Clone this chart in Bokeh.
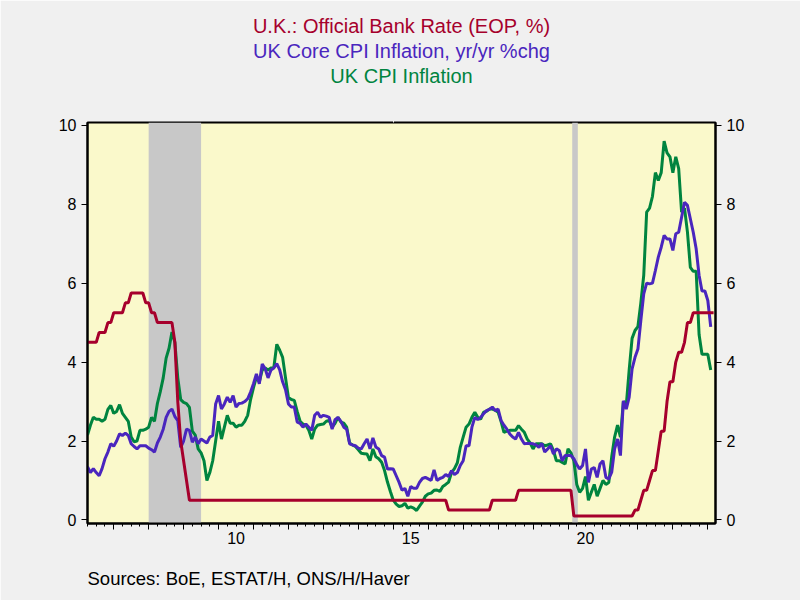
from bokeh.plotting import figure
from bokeh.models import Range1d, LinearAxis, FixedTicker, BoxAnnotation, Title
from bokeh.embed import file_html
from bokeh.resources import INLINE

# ---------------- data (monthly, first observation = April 2006) ----------------
start_year, start_month = 2006, 4

# U.K. Official Bank Rate (EOP, %), Apr 2006 .. Mar 2024
bank_rate = (
    [4.5, 4.5, 4.5, 4.5, 4.75, 4.75, 4.75, 5.0, 5.0] +                      # 2006 Apr-Dec
    [5.25, 5.25, 5.25, 5.25, 5.5, 5.5, 5.75, 5.75, 5.75, 5.75, 5.75, 5.5] +  # 2007
    [5.5, 5.25, 5.25, 5.0, 5.0, 5.0, 5.0, 5.0, 5.0, 4.5, 3.0, 2.0] +         # 2008
    [1.5, 1.0, 0.5, 0.5, 0.5, 0.5, 0.5, 0.5, 0.5, 0.5, 0.5, 0.5] +           # 2009
    [0.5, 0.5, 0.5, 0.5, 0.5, 0.5, 0.5, 0.5, 0.5, 0.5, 0.5, 0.5] +           # 2010
    [0.5, 0.5, 0.5, 0.5, 0.5, 0.5, 0.5, 0.5, 0.5, 0.5, 0.5, 0.5] +           # 2011
    [0.5, 0.5, 0.5, 0.5, 0.5, 0.5, 0.5, 0.5, 0.5, 0.5, 0.5, 0.5] +           # 2012
    [0.5, 0.5, 0.5, 0.5, 0.5, 0.5, 0.5, 0.5, 0.5, 0.5, 0.5, 0.5] +           # 2013
    [0.5, 0.5, 0.5, 0.5, 0.5, 0.5, 0.5, 0.5, 0.5, 0.5, 0.5, 0.5] +           # 2014
    [0.5, 0.5, 0.5, 0.5, 0.5, 0.5, 0.5, 0.5, 0.5, 0.5, 0.5, 0.5] +           # 2015
    [0.5, 0.5, 0.5, 0.5, 0.5, 0.5, 0.5, 0.25, 0.25, 0.25, 0.25, 0.25] +      # 2016
    [0.25, 0.25, 0.25, 0.25, 0.25, 0.25, 0.25, 0.25, 0.25, 0.25, 0.5, 0.5] + # 2017
    [0.5, 0.5, 0.5, 0.5, 0.5, 0.5, 0.5, 0.75, 0.75, 0.75, 0.75, 0.75] +      # 2018
    [0.75, 0.75, 0.75, 0.75, 0.75, 0.75, 0.75, 0.75, 0.75, 0.75, 0.75, 0.75] +  # 2019
    [0.75, 0.75, 0.1, 0.1, 0.1, 0.1, 0.1, 0.1, 0.1, 0.1, 0.1, 0.1] +         # 2020
    [0.1, 0.1, 0.1, 0.1, 0.1, 0.1, 0.1, 0.1, 0.1, 0.1, 0.1, 0.25] +          # 2021
    [0.25, 0.5, 0.75, 0.75, 1.0, 1.25, 1.25, 1.75, 2.25, 2.25, 3.0, 3.5] +   # 2022
    [3.5, 4.0, 4.25, 4.25, 4.5, 5.0, 5.0, 5.25, 5.25, 5.25, 5.25, 5.25] +    # 2023
    [5.25, 5.25, 5.25]                                                       # 2024 Jan-Mar
)

# UK Core CPI Inflation, yr/yr %chg, Apr 2006 .. Feb 2024
core_cpi = (
    [1.35, 1.2, 1.3, 1.2, 1.12, 1.3, 1.55, 1.72, 1.93] +
    [1.87, 2.0, 2.18, 2.14, 2.2, 2.14, 1.93, 1.86, 1.8, 1.88, 1.88, 1.88] +
    [1.82, 1.78, 1.72, 1.95, 2.1, 2.3, 2.6, 2.75, 2.81, 2.62, 2.52, 1.84] +
    [2.0, 2.3, 2.27, 1.97, 2.1, 1.93, 2.05, 2.0, 1.95, 2.1, 2.14, 2.94] +
    [3.15, 2.81, 2.94, 3.11, 2.98, 3.15, 2.86, 2.95, 2.96, 3.0, 3.07, 3.24] +
    [3.45, 3.7, 3.45, 3.95, 3.83, 3.6, 3.8, 3.85, 3.96, 3.8, 3.5, 3.3] +
    [2.94, 2.86, 2.86, 2.48, 2.45, 2.35, 2.43, 2.35, 2.27, 2.65, 2.73, 2.6] +
    [2.65, 2.63, 2.6, 2.3, 2.54, 2.6, 2.5, 2.35, 2.3, 1.93, 1.9, 1.88] +
    [1.82, 1.8, 1.93, 2.05, 1.8, 2.08, 1.85, 1.8, 1.63, 1.59, 1.29, 1.3] +
    [1.29, 1.12, 0.95, 0.75, 0.8, 0.6, 0.85, 0.8, 0.8, 0.95, 1.05, 1.08] +
    [1.04, 1.0, 1.27, 1.0, 1.05, 1.08, 1.15, 1.1, 1.25, 1.15, 1.2, 1.38] +
    [1.5, 1.88, 1.88, 2.35, 2.6, 2.54, 2.6, 2.69, 2.77, 2.8, 2.86, 2.77] +
    [2.81, 2.52, 2.4, 2.3, 2.18, 2.1, 2.05, 2.22, 2.05, 1.93, 1.94, 1.94] +
    [1.93, 1.9, 1.84, 1.94, 1.72, 1.8, 1.88, 1.67, 1.8, 1.76, 1.5, 1.63] +
    [1.63, 1.63, 1.55, 1.4, 1.29, 1.38, 1.8, 0.95, 1.29, 1.33, 1.08, 1.42] +
    [1.5, 1.08, 1.04, 1.21, 1.8, 2.05, 1.63, 3.02, 2.81, 3.11, 3.83, 4.12] +
    [4.33, 5.05, 5.73, 6.0, 5.98, 6.0, 6.32, 6.66, 6.91, 7.21, 7.12, 7.12] +
    [6.83, 7.25, 7.29, 7.67, 8.05, 7.97, 7.63, 7.29, 6.87, 6.2, 5.8, 5.8] +
    [5.56, 4.89]
)

# UK CPI Inflation, Apr 2006 .. Feb 2024
uk_cpi = (
    [2.15, 2.4, 2.6, 2.55, 2.55, 2.5, 2.55, 2.8, 2.9] +
    [2.7, 2.75, 2.92, 2.7, 2.6, 2.5, 2.1, 1.98, 2.0, 2.27, 2.27, 2.3] +
    [2.35, 2.6, 2.5, 2.95, 3.25, 3.6, 4.1, 4.35, 4.76, 4.5, 3.6, 3.05] +
    [2.98, 2.95, 2.85, 2.25, 2.15, 1.8, 1.7, 1.5, 1.0, 1.2, 1.5, 2.0] +
    [2.5, 2.05, 2.35, 2.65, 2.45, 2.45, 2.35, 2.4, 2.4, 2.5, 2.65, 3.05] +
    [3.35, 3.62, 3.5, 3.8, 3.85, 3.8, 3.85, 3.87, 4.45, 4.3, 4.12, 3.6] +
    [3.1, 3.05, 3.03, 2.75, 2.5, 2.43, 2.4, 2.27, 2.05, 2.3, 2.4, 2.42] +
    [2.43, 2.5, 2.52, 2.35, 2.45, 2.6, 2.48, 2.45, 2.35, 1.95, 1.9, 1.86] +
    [1.78, 1.69, 1.68, 1.67, 1.5, 1.8, 1.6, 1.55, 1.46, 1.25, 0.96, 0.72] +
    [0.5, 0.4, 0.34, 0.36, 0.42, 0.3, 0.33, 0.3, 0.24, 0.35, 0.45, 0.6] +
    [0.66, 0.68, 0.75, 0.76, 0.72, 0.85, 0.9, 0.96, 1.2, 1.3, 1.45, 1.84] +
    [2.1, 2.35, 2.43, 2.6, 2.73, 2.6, 2.55, 2.73, 2.75, 2.81, 2.81, 2.78] +
    [2.73, 2.5, 2.22, 2.25, 2.27, 2.27, 2.27, 2.39, 2.3, 2.22, 2.05, 1.95] +
    [1.8, 1.93, 1.93, 1.93, 1.88, 1.9, 1.93, 1.76, 1.5, 1.5, 1.46, 1.42] +
    [1.8, 1.7, 1.5, 0.9, 0.7, 0.8, 1.1, 0.5, 0.7, 0.9, 0.6, 0.8] +
    [1.0, 0.9, 0.95, 1.6, 2.1, 2.4, 2.1, 3.0, 2.9, 3.8, 4.6, 4.8] +
    [4.9, 5.5, 6.2, 7.8, 7.9, 8.2, 8.8, 8.6, 8.8, 9.6, 9.3, 9.2] +
    [8.8, 9.2, 8.9, 7.8, 7.9, 7.3, 6.4, 6.3, 6.3, 4.7, 4.2, 4.2] +
    [4.2, 3.8]
)

# recessions (decimal years)
recession_start = [2008.0, 2020.12]
recession_end = [2009.5, 2020.28]

year_ticks = list(range(2007, 2025))
quarter_ticks = [2006.25 + 0.25 * i for i in range(73)]
label_years = [2010, 2015, 2020]
y_ticks = [0, 2, 4, 6, 8, 10]

title_lines = ["U.K.: Official Bank Rate (EOP, %)",
               "UK Core CPI Inflation, yr/yr %chg",
               "UK CPI Inflation"]
source_text = "Sources:  BoE, ESTAT/H, ONS/H/Haver"

# ---------------- styling ----------------
RED = "#A6002C"
BLUE = "#4A26BE"
GREEN = "#00843F"
PAGE_BG = "#F0F0F0"
PLOT_BG = "#FAF9CB"
SHADE = "#C8C8C8"
FONT = "Liberation Sans"

def month_positions(n):
    return [start_year + (start_month - 1 + i) / 12 for i in range(n)]

X0, X1 = 2006.25, 2024.22
Y0, Y1 = -0.09, 10.07

W, H = 800, 600
BL, BR, BT, BB = 87, 85, 122, 77

p = figure(width=W, height=H, x_range=Range1d(X0, X1), y_range=Range1d(Y0, Y1),
           output_backend="svg", toolbar_location=None,
           x_axis_location=None, y_axis_location=None,
           min_border_left=BL, min_border_right=BR,
           min_border_top=BT, min_border_bottom=BB,
           background_fill_color=PLOT_BG, border_fill_color=PAGE_BG)
p.grid.visible = False
p.outline_line_color = "black"
p.outline_line_width = 2

for s, e in zip(recession_start, recession_end):
    p.add_layout(BoxAnnotation(left=s, right=e, fill_color=SHADE, fill_alpha=1.0,
                               line_color=None, level="underlay"))

p.line(month_positions(len(uk_cpi)), uk_cpi, line_color=GREEN, line_width=3)
p.line(month_positions(len(core_cpi)), core_cpi, line_color=BLUE, line_width=3)
p.line(month_positions(len(bank_rate)), bank_rate, line_color=RED, line_width=3)

def y_axis():
    ax = LinearAxis(ticker=FixedTicker(ticks=y_ticks, minor_ticks=[]))
    ax.major_tick_out = 6
    ax.major_tick_in = 0
    ax.minor_tick_out = 0
    ax.minor_tick_in = 0
    ax.axis_line_color = "black"
    ax.axis_line_width = 2
    ax.major_tick_line_color = "black"
    ax.major_tick_line_width = 1
    ax.major_label_text_font = FONT
    ax.major_label_text_font_size = "16px"
    ax.major_label_text_color = "black"
    ax.major_label_standoff = 5
    return ax

SPACER_TICK = [2015.0]

def spacer_axis(size):
    """A blank axis (one tick drawn in the page colour, no label, no line):
    it only reserves vertical space next to the frame."""
    ax = LinearAxis(ticker=FixedTicker(ticks=SPACER_TICK, minor_ticks=[]))
    ax.axis_line_color = None
    ax.major_tick_line_color = PAGE_BG
    ax.minor_tick_line_color = None
    ax.major_tick_out = size
    ax.major_tick_in = 0
    ax.minor_tick_out = 0
    ax.minor_tick_in = 0
    ax.major_label_overrides = {t: "" for t in SPACER_TICK}
    ax.major_label_standoff = 0
    return ax

p.add_layout(y_axis(), "left")
p.add_layout(y_axis(), "right")

# bottom axis: year boundaries (long ticks) and quarters (short ticks)
xa = LinearAxis(ticker=FixedTicker(ticks=year_ticks, minor_ticks=quarter_ticks))
xa.major_tick_out = 6
xa.major_tick_in = 0
xa.minor_tick_out = 3
xa.minor_tick_in = 0
xa.axis_line_color = "black"
xa.axis_line_width = 2
xa.major_tick_line_color = "black"
xa.minor_tick_line_color = "black"
xa.major_label_overrides = {y: "" for y in year_ticks}
xa.major_label_standoff = 0
p.add_layout(xa, "below")

# year labels centred on the middle of each labelled year
mid_ticks = [y + 0.5 for y in label_years]
xl = LinearAxis(ticker=FixedTicker(ticks=mid_ticks, minor_ticks=[]))
xl.axis_line_color = None
xl.major_tick_line_color = None
xl.minor_tick_line_color = None
xl.major_tick_out = 0
xl.major_tick_in = 0
xl.major_label_overrides = {m: str(y % 100) for m, y in zip(mid_ticks, label_years)}
xl.major_label_text_font = FONT
xl.major_label_text_font_size = "16px"
xl.major_label_text_color = "black"
xl.major_label_standoff = 2
p.add_layout(xl, "below")

# gap, then the sources note
p.add_layout(spacer_axis(19), "below")
p.add_layout(Title(text=source_text, text_color="black", text_font=FONT,
                   text_font_size="18.5px", text_font_style="normal",
                   align="left", offset=0, standoff=0), "below")

# titles: gap above the frame, then the three lines (first added = closest)
p.add_layout(spacer_axis(36), "above")
title_colors = [RED, BLUE, GREEN]
title_standoffs = [1, 1, 0]
for txt, col, so in reversed(list(zip(title_lines, title_colors, title_standoffs))):
    p.add_layout(Title(text=txt, text_color=col, text_font=FONT,
                       text_font_size="20px", text_font_style="normal",
                       align="center", standoff=so), "above")

html = file_html(p, INLINE)
html = html.replace("<body>", '<body style="margin:0; background-color:%s;">' % PAGE_BG, 1)
open("out.html", "w").write(html)
